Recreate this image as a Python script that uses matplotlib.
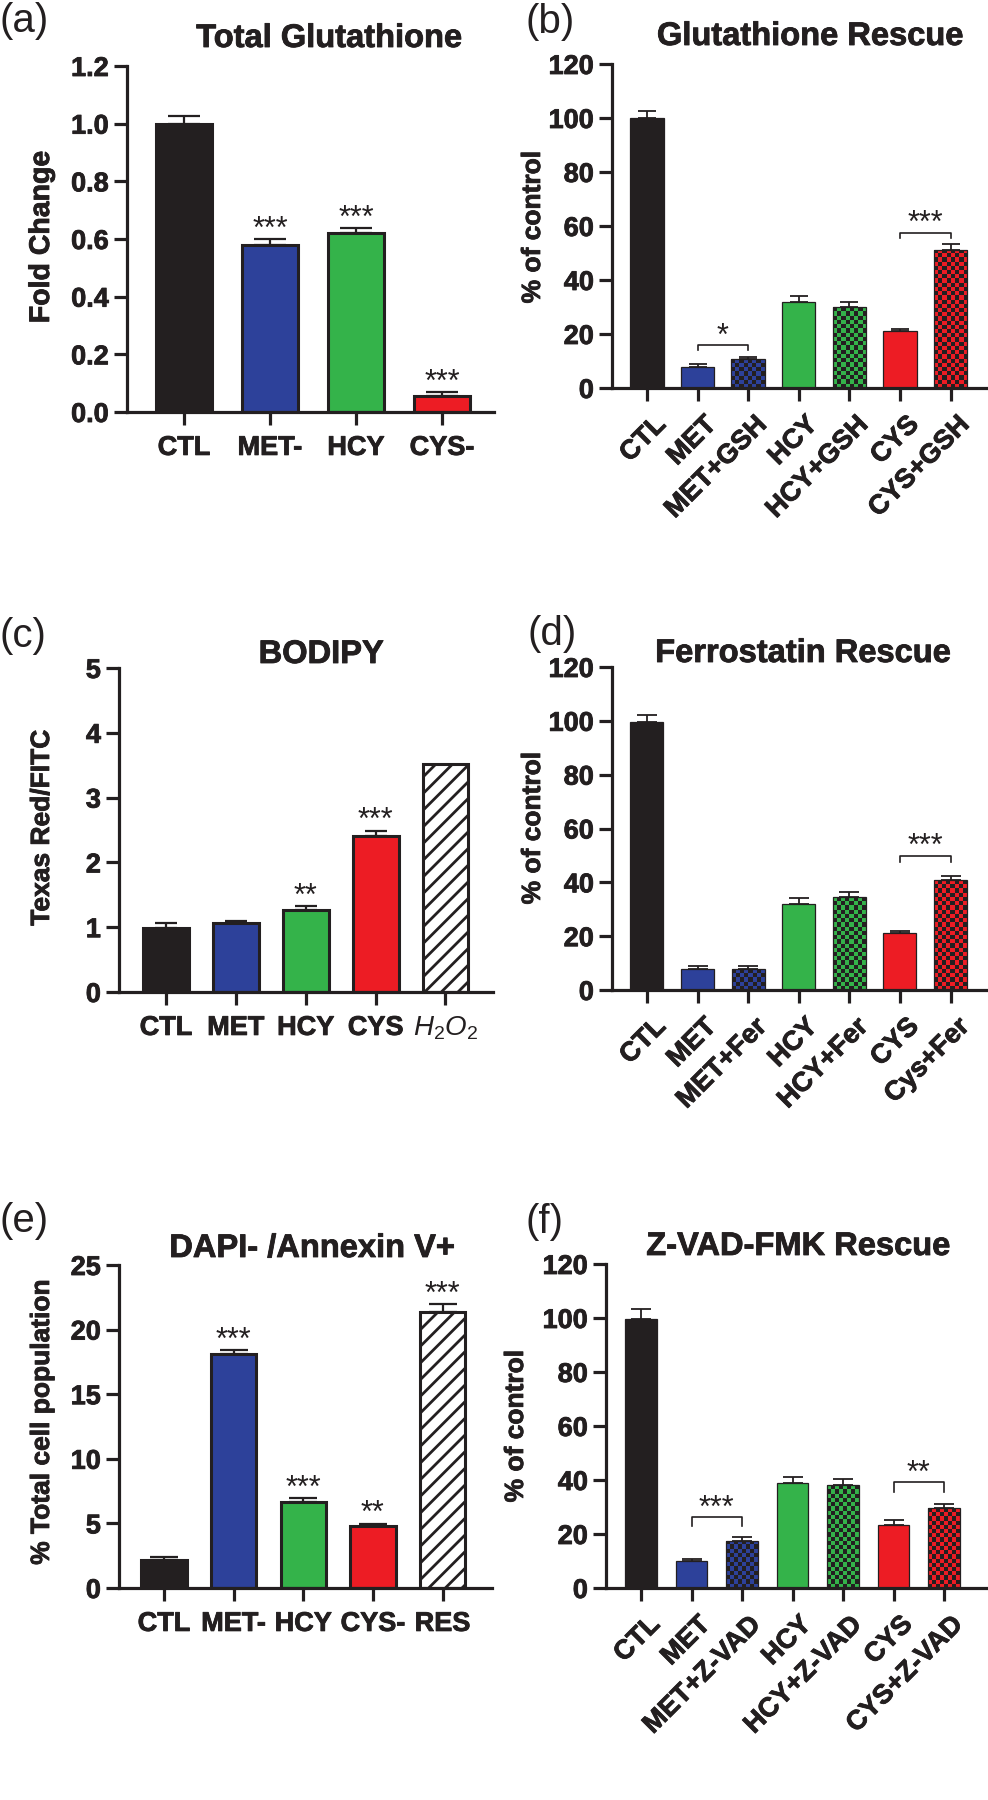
import numpy as np
import matplotlib
matplotlib.use('Agg')
import matplotlib.pyplot as plt
import matplotlib.patheffects as pe
from matplotlib.colors import ListedColormap
from matplotlib.transforms import ScaledTranslation

plt.rcParams['font.family'] = ['Liberation Sans', 'DejaVu Sans']
plt.rcParams['mathtext.fontset'] = 'custom'
plt.rcParams['mathtext.it'] = 'Liberation Sans:italic'
plt.rcParams['mathtext.rm'] = 'Liberation Sans'
plt.rcParams['hatch.linewidth'] = 2.0

DARK = '#231f20'
BLUE = '#2d419a'
GREEN = '#34b34a'
RED = '#ed1c24'
WHITE = '#ffffff'
HEAVY = [pe.withStroke(linewidth=0.6, foreground=DARK)]

# ---------------- data ----------------
a_labels = ['CTL', 'MET-', 'HCY', 'CYS-']
a_vals = [1.0, 0.58, 0.62, 0.055]
a_errs = [0.025, 0.02, 0.017, 0.014]
a_stars = ['', '***', '***', '***']

b_labels = ['CTL', 'MET', 'MET+GSH', 'HCY', 'HCY+GSH', 'CYS', 'CYS+GSH']
b_vals = [100, 7.8, 10.6, 32, 30, 21.2, 51.2]
b_errs = [2.5, 1.2, 0.9, 2.1, 1.9, 0.8, 2.1]
b_brackets = [(1, 2, 15.8, '*'), (5, 6, 57.5, '***')]

c_labels = ['CTL', 'MET', 'HCY', 'CYS', '$H_2O_2$']
c_vals = [0.99, 1.065, 1.27, 2.40, 3.52]
c_errs = [0.07, 0.035, 0.05, 0.09, 0.0]
c_stars = ['', '', '**', '***', '']

d_labels = ['CTL', 'MET', 'MET+Fer', 'HCY', 'HCY+Fer', 'CYS', 'Cys+Fer']
d_vals = [99.6, 7.7, 7.7, 31.9, 34.4, 21.0, 40.8]
d_errs = [2.4, 1.2, 1.2, 2.1, 2.1, 0.9, 1.5]
d_brackets = [(5, 6, 49.8, '***')]

e_labels = ['CTL', 'MET-', 'HCY', 'CYS-', 'RES']
e_vals = [2.14, 18.08, 6.66, 4.78, 21.33]
e_errs = [0.26, 0.33, 0.31, 0.2, 0.62]
e_stars = ['', '***', '***', '**', '***']

f_labels = ['CTL', 'MET', 'MET+Z-VAD', 'HCY', 'HCY+Z-VAD', 'CYS', 'CYS+Z-VAD']
f_vals = [99.6, 10.1, 17.5, 38.9, 38.0, 23.5, 29.6]
f_errs = [3.9, 0.8, 1.4, 2.1, 2.4, 1.8, 1.5]
f_brackets = [(1, 2, 26.2, '***'), (5, 6, 39.1, '**')]

# styles per bar
four_colors = [DARK, BLUE, GREEN, RED]
five_colors = [DARK, BLUE, GREEN, RED, WHITE]
five_styles = ['solid', 'solid', 'solid', 'solid', 'hatch']
seven_colors = [DARK, BLUE, BLUE, GREEN, GREEN, RED, RED]
seven_styles = ['solid', 'solid', 'check', 'solid', 'check', 'solid', 'check']

W, H = 988, 1800
fig = plt.figure(figsize=(W / 100, H / 100), dpi=100)


def px_axes(l, t, r, b):
    return fig.add_axes([l / W, 1 - b / H, (r - l) / W, (b - t) / H])


def ftext(x, y, s, **kw):
    fig.text(x / W, 1 - y / H, s, **kw)


STAR_KW = dict(textcoords='offset points', ha='center', va='baseline',
               fontsize=22, color=DARK)


def draw_panel(ax, labels, vals, errs, colors, styles, ylim, yticks, yfmt,
               xlim, width, edge_lw, err_lw, capsize, rotate,
               stars=None, brackets=None, drop=0.0):
    x = np.arange(len(labels))
    ax.set_xlim(*xlim)
    ax.set_ylim(*ylim)
    for i in range(len(labels)):
        st = styles[i]
        if st == 'solid':
            ax.bar(x[i], vals[i], width, color=colors[i], edgecolor=DARK,
                   linewidth=edge_lw, zorder=2)
        elif st == 'hatch':
            ax.bar(x[i], vals[i], width, color=WHITE, edgecolor=DARK,
                   linewidth=edge_lw, hatch='//', zorder=2)
        else:
            b = ax.bar(x[i], vals[i], width, color=colors[i], linewidth=0,
                       zorder=2)[0]
            x0, x1 = b.get_x(), b.get_x() + b.get_width()
            y0, y1 = 0, b.get_height()
            p0 = ax.transData.transform((x0, y0))
            p1 = ax.transData.transform((x1, y1))
            nc = max(1, int(round(abs(p1[0] - p0[0]) / 4.2)))
            nr = max(1, int(round(abs(p1[1] - p0[1]) / 4.2)))
            ii, jj = np.indices((nr, nc))
            arr = (ii + jj) % 2
            im = ax.imshow(arr, extent=(x0, x1, y0, y1), origin='lower',
                           cmap=ListedColormap([DARK, colors[i]]),
                           interpolation='nearest', aspect='auto', zorder=2.5)
            im.set_clip_path(b)
            ax.bar(x[i], vals[i], width, fill=False, edgecolor=DARK,
                   linewidth=edge_lw, zorder=3)
    xe = [xi for xi, e in zip(x, errs) if e > 0]
    ve = [v for v, e in zip(vals, errs) if e > 0]
    ee = [e for e in errs if e > 0]
    ax.errorbar(xe, ve, yerr=[np.zeros(len(ee)), ee], fmt='none',
                ecolor=DARK, elinewidth=err_lw, capsize=capsize,
                capthick=err_lw, zorder=4)
    if stars:
        for i, s in enumerate(stars):
            if s:
                ax.annotate(s, xy=(x[i], vals[i] + errs[i]), xytext=(0, 1.0),
                            **STAR_KW)
    if brackets:
        for (i, j, yb, s) in brackets:
            ax.plot([x[i], x[i], x[j], x[j]], [yb - drop, yb, yb, yb - drop],
                    color=DARK, lw=1.2, zorder=4, clip_on=False)
            ax.annotate(s, xy=((x[i] + x[j]) / 2, yb), xytext=(0, 0.5),
                        **STAR_KW)
    ax.set_xlim(*xlim)
    ax.set_ylim(*ylim)
    for sp in ['top', 'right']:
        ax.spines[sp].set_visible(False)
    for sp in ['left', 'bottom']:
        ax.spines[sp].set_linewidth(2.3)
        ax.spines[sp].set_color(DARK)
    ax.set_yticks(yticks)
    ax.set_yticklabels([yfmt.format(v) for v in yticks], fontsize=19.5,
                       fontweight='bold', color=DARK)
    ax.set_xticks(x)
    ax.tick_params(axis='both', direction='out', length=9.5, width=2.3,
                   color=DARK)
    ax.tick_params(axis='y', pad=3.5)
    if rotate:
        ax.set_xticklabels(labels, rotation=45, ha='right', va='center',
                           rotation_mode='anchor', fontsize=19.5,
                           fontweight='bold', color=DARK)
        ax.tick_params(axis='x', pad=14)
        shift = ScaledTranslation(15 / 100, 0, fig.dpi_scale_trans)
        for lab in ax.get_xticklabels():
            lab.set_transform(lab.get_transform() + shift)
    else:
        ax.set_xticklabels(labels, fontsize=19.5, fontweight='bold',
                           color=DARK)
        ax.tick_params(axis='x', pad=7)
    for lab in ax.get_xticklabels() + ax.get_yticklabels():
        if '$' not in lab.get_text():
            lab.set_path_effects(HEAVY)
    ax.patch.set_alpha(0)


# (a)
ax = px_axes(127, 66, 494, 412)
draw_panel(ax, a_labels, a_vals, a_errs, four_colors, ['solid'] * 4,
           (0, 1.2), [0, 0.2, 0.4, 0.6, 0.8, 1.0, 1.2], '{:.1f}',
           (-0.663, 3.605), 0.65, 2.2, 1.6, 11.4, False, stars=a_stars)

# (b)
ax = px_axes(612, 64, 988, 388)
draw_panel(ax, b_labels, b_vals, b_errs, seven_colors, seven_styles,
           (0, 120), [0, 20, 40, 60, 80, 100, 120], '{:d}',
           (-0.69, 6.74), 0.66, 0.9, 1.3, 6.8, True,
           brackets=b_brackets, drop=1.8)

# (c)
ax = px_axes(119, 668, 493, 992)
draw_panel(ax, c_labels, c_vals, c_errs, five_colors, five_styles,
           (0, 5), [0, 1, 2, 3, 4, 5], '{:d}',
           (-0.673, 4.68), 0.655, 2.2, 1.6, 8.0, False, stars=c_stars)
for lab in ax.get_xticklabels():
    if 'H_2' in lab.get_text():
        lab.set_fontweight('normal')
        lab.set_fontsize(20)

# (d)
ax = px_axes(612, 667, 988, 990)
draw_panel(ax, d_labels, d_vals, d_errs, seven_colors, seven_styles,
           (0, 120), [0, 20, 40, 60, 80, 100, 120], '{:d}',
           (-0.69, 6.74), 0.65, 0.9, 1.3, 7.2, True,
           brackets=d_brackets, drop=2.2)

# (e)
ax = px_axes(119, 1265, 492, 1588)
draw_panel(ax, e_labels, e_vals, e_errs, five_colors, five_styles,
           (0, 25), [0, 5, 10, 15, 20, 25], '{:d}',
           (-0.646, 4.71), 0.65, 2.2, 1.6, 9.8, False, stars=e_stars)

# (f)
ax = px_axes(606, 1264, 988, 1588)
draw_panel(ax, f_labels, f_vals, f_errs, seven_colors, seven_styles,
           (0, 120), [0, 20, 40, 60, 80, 100, 120], '{:d}',
           (-0.693, 6.87), 0.63, 0.9, 1.3, 7.2, True,
           brackets=f_brackets, drop=3.4)

# titles
title_kw = dict(fontsize=23.5, fontweight='bold', ha='center', va='baseline',
                color=DARK, path_effects=HEAVY)
ftext(329, 47, 'Total Glutathione', **title_kw)
ftext(810, 45, 'Glutathione Rescue', **title_kw)
ftext(321, 663, 'BODIPY', **title_kw)
ftext(803, 662, 'Ferrostatin Rescue', **title_kw)
ftext(312, 1257, 'DAPI- /Annexin V+', **title_kw)
ftext(798, 1255, 'Z-VAD-FMK Rescue', **title_kw)

# y labels
yl_kw = dict(fontweight='bold', ha='center', va='center', rotation=90,
             color=DARK, path_effects=HEAVY)
ftext(42, 237, 'Fold Change', fontsize=20.5, **yl_kw)
ftext(533, 227, '% of control', fontsize=19, **yl_kw)
ftext(42, 828, 'Texas Red/FITC', fontsize=19, **yl_kw)
ftext(533, 828, '% of control', fontsize=19, **yl_kw)
ftext(42, 1422, '% Total cell population', fontsize=19, **yl_kw)
ftext(516, 1426, '% of control', fontsize=19, **yl_kw)

# panel letters
pl_kw = dict(fontsize=29, ha='left', va='baseline', color=DARK)
ftext(0, 32, '(a)', **pl_kw)
ftext(526, 33, '(b)', **pl_kw)
ftext(0, 647, '(c)', **pl_kw)
ftext(527, 645, '(d)', **pl_kw)
ftext(0, 1232, '(e)', **pl_kw)
ftext(526, 1233, '(f)', **pl_kw)

fig.savefig('out.png', dpi=100)
